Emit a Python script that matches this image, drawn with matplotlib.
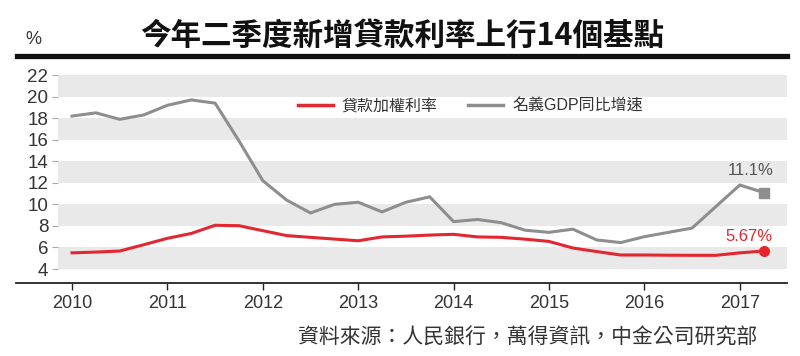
import matplotlib
matplotlib.use("Agg")
import matplotlib.pyplot as plt
from matplotlib.lines import Line2D

plt.rcParams['font.family'] = ['Liberation Sans', 'Noto Sans CJK TC', 'DejaVu Sans']

# Quarterly data, 2010Q1 - 2017Q2
years = [2010, 2011, 2012, 2013, 2014, 2015, 2016, 2017]
quarters = [(y, q) for y in years for q in range(4)][:30]
loan_rate = [5.50, 5.57, 5.67, 6.25,
             6.85, 7.30, 8.06, 8.02,
             7.56, 7.10, 6.94, 6.78,
             6.62, 6.98, 7.05, 7.15,
             7.22, 6.98, 6.94, 6.77,
             6.56, 5.95, 5.62, 5.30,
             5.30, 5.28, 5.27, 5.27,
             5.50, 5.67]
gdp_growth = [18.2, 18.5, 17.9, 18.3,
              19.2, 19.7, 19.4, 15.9,
              12.2, 10.4, 9.2, 10.0,
              10.2, 9.3, 10.2, 10.7,
              8.4, 8.6, 8.3, 7.6,
              7.4, 7.7, 6.7, 6.45,
              7.0, 7.4, 7.8, 9.8,
              11.8, 11.1]
y_ticks = [4, 6, 8, 10, 12, 14, 16, 18, 20, 22]
labels = ["貸款加權利率", "名義GDP同比增速"]
title = "今年二季度新增貸款利率上行14個基點"
source = "資料來源：人民銀行，萬得資訊，中金公司研究部"

red = "#e3262f"
grey = "#8e8e8e"
band = "#e9e9e9"

x = [y + q / 4 for y, q in quarters]

fig = plt.figure(figsize=(8, 3.56), dpi=100)
ax = fig.add_axes([58 / 800, 73 / 356, 729 / 800, 210 / 356])

# alternating grey bands
for lo in y_ticks[0::2]:
    ax.axhspan(lo, lo + 2, color=band, lw=0, zorder=0)

ax.plot(x, gdp_growth, color=grey, lw=2.2, zorder=3)
ax.plot(x, loan_rate, color=red, lw=2.2, zorder=4)
ax.plot(x[-1], gdp_growth[-1], marker='s', ms=7.5, color=grey, zorder=5)
ax.plot(x[-1], loan_rate[-1], marker='o', ms=7, color=red, zorder=5)

ax.annotate(f"{gdp_growth[-1]:.1f}%", (x[-1], gdp_growth[-1]), xytext=(-13, 22),
            textcoords='offset pixels', ha='center', va='center', fontsize=12, color='#555555')
ax.annotate(f"{loan_rate[-1]:.2f}%", (x[-1], loan_rate[-1]), xytext=(-15, 15),
            textcoords='offset pixels', ha='center', va='center', fontsize=12, color=red)

ax.set_xlim(2009.853, 2017.495)
ax.set_ylim(2.7, 22.2)
ax.set_yticks(y_ticks)
ax.set_xticks(years)
ax.tick_params(axis='y', length=4, color='#aaaaaa', labelsize=13.5, labelcolor='#333333', pad=3)
ax.tick_params(axis='x', length=5, width=1, color='#222222', labelsize=13, labelcolor='#333333', pad=4)
for s in ax.spines.values():
    s.set_visible(False)

handles = [Line2D([], [], color=red, lw=2.5), Line2D([], [], color=grey, lw=2.5)]
ax.legend(handles, labels, ncol=2, frameon=False, loc='center left',
          bbox_to_anchor=(298 / 800, 1 - 106 / 356), bbox_transform=fig.transFigure,
          fontsize=11.5, handlelength=2.2, handletextpad=0.55, columnspacing=1.9,
          borderpad=0, borderaxespad=0, labelcolor='#333333')

# bottom axis line and title rule
fig.add_artist(Line2D([16 / 800, 787 / 800], [1 - 283 / 356] * 2, color='#222222', lw=1.3))
fig.add_artist(Line2D([17 / 800, 787 / 800], [1 - 55.5 / 356] * 2, color='#111111', lw=3.8))

fig.text(402 / 800, 1 - 36 / 356, title, ha='center', va='center', fontsize=22,
         fontweight='bold', family=['Noto Sans CJK TC', 'DejaVu Sans'], color='#111111')
fig.text(25 / 800, 1 - 40 / 356, "%", ha='left', va='center', fontsize=13, color='#333333')
fig.text(298 / 800, 1 - 337 / 356, source, ha='left', va='center', fontsize=15,
         family=['Noto Sans CJK TC', 'DejaVu Sans'], color='#333333')

fig.savefig("out.png", dpi=100)
